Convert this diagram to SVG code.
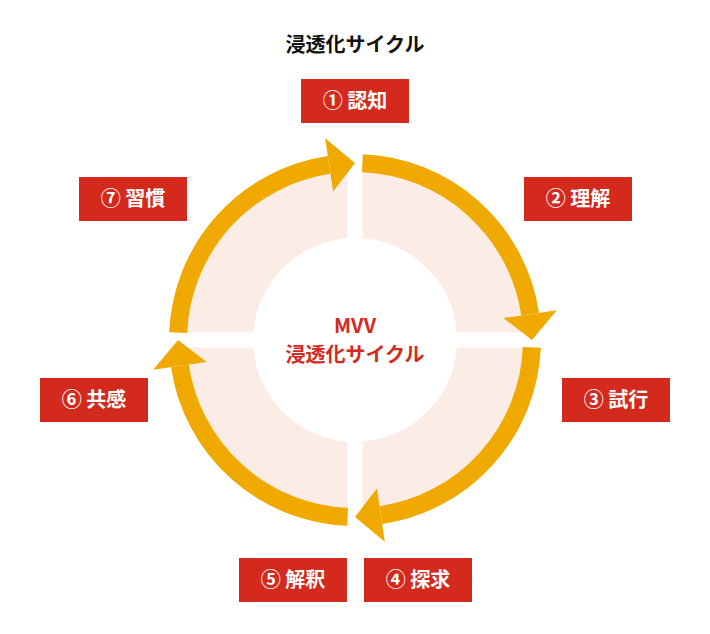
<svg xmlns="http://www.w3.org/2000/svg" xmlns:xlink="http://www.w3.org/1999/xlink" width="710" height="634" viewBox="0 0 710 634">
<style>
.lbl{fill:#D42A1E}
.lt{fill:#fff;font-family:"Noto Sans CJK JP","Noto Sans",sans-serif;font-size:20px;font-weight:bold;text-anchor:middle}
.band{fill:none;stroke:#F0A900;stroke-width:18}
.head{fill:#F0A900}
</style>
<defs>
<g id="q">
<path class="band" d="M362.4,163.2 A177,177 0 0 1 530.1,314.1"/>
<polygon class="head" points="503.4,318.1 556.8,310.2 532,340"/>
</g>
</defs>
<rect width="710" height="634" fill="#fff"/>
<text x="355" y="52" font-family="Noto Sans CJK JP, sans-serif" font-size="20" font-weight="bold" text-anchor="middle" fill="#111">浸透化サイクル</text>
<g id="ring">
<circle cx="355" cy="340" r="135" fill="none" stroke="#FBEDE5" stroke-width="66"/>
<rect x="347.5" y="150" width="15" height="380" fill="#fff"/>
<rect x="165" y="332.5" width="380" height="15" fill="#fff"/>
</g>
<g id="connectors">
<use xlink:href="#q"/>
<use xlink:href="#q" transform="rotate(90 355 340)"/>
<use xlink:href="#q" transform="rotate(180 355 340)"/>
<use xlink:href="#q" transform="rotate(270 355 340)"/>
</g>
<g id="center">
<text x="355" y="333" font-family="Noto Sans CJK JP, sans-serif" font-size="20" font-weight="bold" text-anchor="middle" fill="#D42A1E">MVV</text>
<text x="355" y="362" font-family="Noto Sans CJK JP, sans-serif" font-size="20" font-weight="bold" text-anchor="middle" fill="#D42A1E">浸透化サイクル</text>
</g>
<g id="n1"><rect class="lbl" x="301" y="79" width="108" height="44"/><text class="lt" x="355" y="108">① 認知</text></g>
<g id="n2"><rect class="lbl" x="524" y="177" width="108" height="44"/><text class="lt" x="578" y="206">② 理解</text></g>
<g id="n3"><rect class="lbl" x="562" y="378" width="108" height="44"/><text class="lt" x="616" y="407">③ 試行</text></g>
<g id="n4"><rect class="lbl" x="364" y="558" width="108" height="44"/><text class="lt" x="418" y="587">④ 探求</text></g>
<g id="n5"><rect class="lbl" x="239" y="558" width="108" height="44"/><text class="lt" x="293" y="587">⑤ 解釈</text></g>
<g id="n6"><rect class="lbl" x="40" y="378" width="108" height="44"/><text class="lt" x="94" y="407">⑥ 共感</text></g>
<g id="n7"><rect class="lbl" x="79" y="177" width="108" height="44"/><text class="lt" x="133" y="206">⑦ 習慣</text></g>
</svg>
